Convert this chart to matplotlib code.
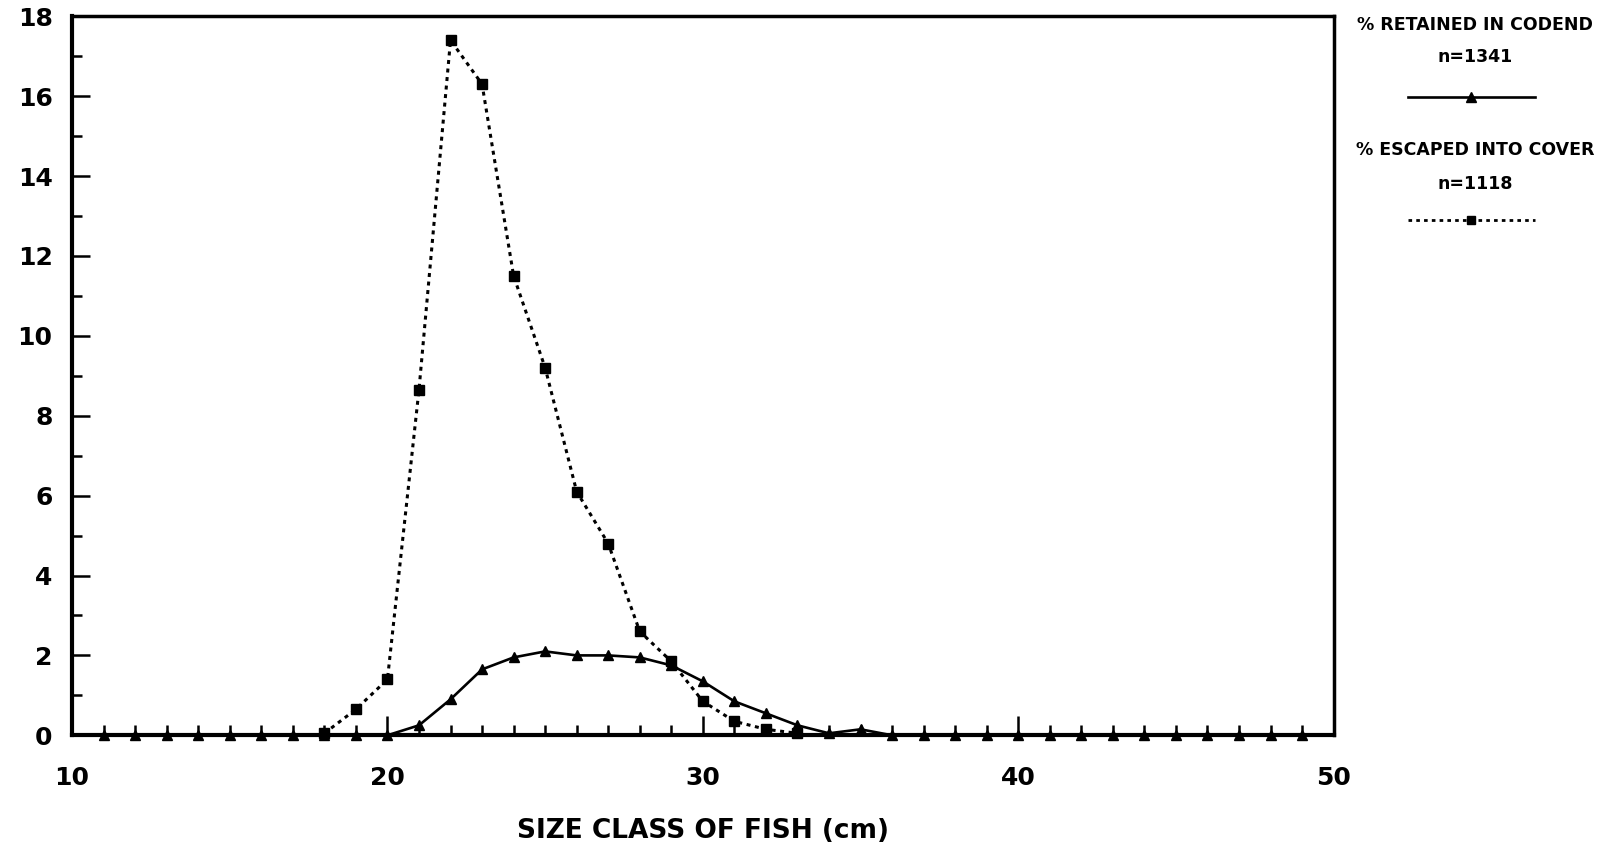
import matplotlib
matplotlib.use("Agg")
import matplotlib.pyplot as plt
from matplotlib.ticker import MultipleLocator

# Size classes (cm) and percentage frequencies for each catch component
retained_size = list(range(11, 50))
retained_pct = [0, 0, 0, 0, 0, 0, 0, 0, 0, 0,          # 11-20
                0.25, 0.9, 1.65, 1.95, 2.1, 2.0, 2.0, 1.95, 1.75, 1.35,  # 21-30
                0.85, 0.55, 0.25, 0.05, 0.15,            # 31-35
                0, 0, 0, 0, 0, 0, 0, 0, 0, 0, 0, 0, 0, 0]  # 36-49

escaped_size = list(range(18, 34))
escaped_pct = [0.05, 0.65, 1.4,                          # 18-20
               8.65, 17.4, 16.3, 11.5, 9.2, 6.1, 4.8, 2.6, 1.85, 0.85,  # 21-30
               0.35, 0.15, 0.05]                         # 31-33

retained_label = "% RETAINED IN CODEND"
retained_n = "n=1341"
escaped_label = "% ESCAPED INTO COVER"
escaped_n = "n=1118"
x_label = "SIZE CLASS OF FISH (cm)"

plt.rcParams["font.family"] = ["DejaVu Sans"]
plt.rcParams["font.weight"] = "bold"

fig = plt.figure(figsize=(16.01, 8.55), dpi=100)
ax = fig.add_axes([0.045, 0.140, 0.788, 0.841])

dotted = (0, (1.3, 1.5))
ax.plot(escaped_size, escaped_pct, color="black", linestyle=dotted,
        linewidth=2.2, marker="s", markersize=7, zorder=3)
ax.plot(retained_size, retained_pct, color="black", linestyle="-",
        linewidth=1.9, marker="^", markersize=6.5, zorder=4)

ax.set_xlim(10, 50)
ax.set_ylim(0, 18)
ax.xaxis.set_major_locator(MultipleLocator(10))
ax.xaxis.set_minor_locator(MultipleLocator(1))
ax.yaxis.set_major_locator(MultipleLocator(2))
ax.yaxis.set_minor_locator(MultipleLocator(1))

ax.tick_params(axis="both", which="both", direction="in", color="black",
               width=1.8, top=False, right=False)
ax.tick_params(axis="y", which="major", length=13, pad=14, labelsize=18)
ax.tick_params(axis="y", which="minor", length=7)
ax.tick_params(axis="x", which="major", length=14, pad=22, labelsize=18)
ax.tick_params(axis="x", which="minor", length=7)
for lab in ax.get_xticklabels() + ax.get_yticklabels():
    lab.set_fontweight("bold")

for side in ("left", "bottom"):
    ax.spines[side].set_linewidth(3.0)
for side in ("top", "right"):
    ax.spines[side].set_linewidth(2.5)
for line in ax.get_lines():
    line.set_clip_on(False)

fig.text(0.439, 0.028, x_label, ha="center", va="center",
         fontsize=19, fontweight="bold")

# Key on the right-hand side
key = fig.add_axes([0.845, 0.70, 0.15, 0.29])
key.set_xlim(0, 1)
key.set_ylim(0, 1)
key.axis("off")
fs = 12.5
key.text(0.508, 0.934, retained_label, ha="center", va="center", fontsize=fs, fontweight="bold")
key.text(0.508, 0.803, retained_n, ha="center", va="center", fontsize=fs, fontweight="bold")
key.plot([0.229, 0.49, 0.758], [0.643, 0.643, 0.643], color="black", linewidth=1.9,
         marker="^", markersize=6.5, markevery=[1])
key.text(0.508, 0.429, escaped_label, ha="center", va="center", fontsize=fs, fontweight="bold")
key.text(0.508, 0.293, escaped_n, ha="center", va="center", fontsize=fs, fontweight="bold")
key.plot([0.229, 0.49, 0.758], [0.147, 0.147, 0.147], color="black", linewidth=2.0,
         linestyle=dotted, marker="s", markersize=5.5, markevery=[1])

fig.savefig("out.png", dpi=100, facecolor="white")
